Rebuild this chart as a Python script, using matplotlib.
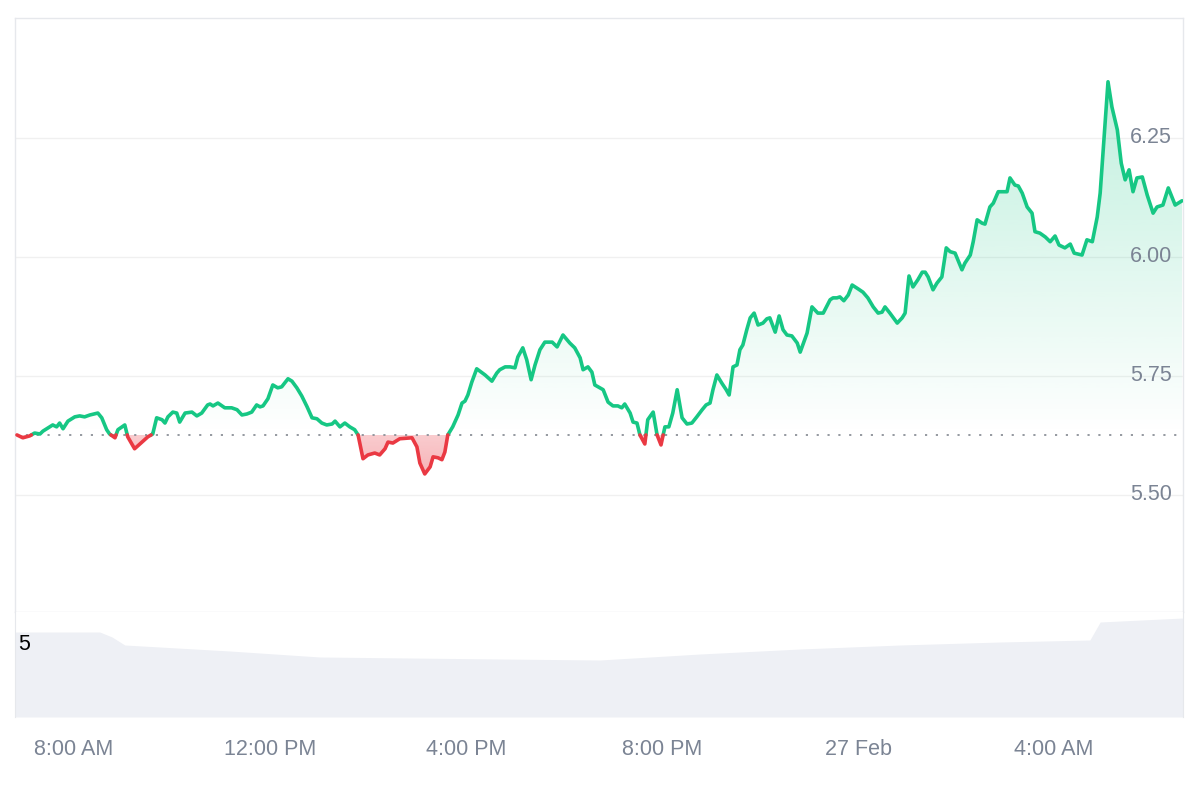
#!/usr/bin/env python3
"""Intraday price chart (24h) with baseline split colouring and volume strip."""
import numpy as np
import matplotlib

matplotlib.use("Agg")
import matplotlib.pyplot as plt
from matplotlib.path import Path

# time in hours since 26 Feb 00:00, price
TIMES = [
    6.84, 6.96, 7.10, 7.20, 7.31, 7.37, 7.51, 7.57, 7.65, 7.71, 7.78, 7.88,
    8.02, 8.12, 8.22, 8.33, 8.49, 8.57, 8.67, 8.73, 8.84, 8.90, 9.04, 9.10,
    9.24, 9.39, 9.51, 9.61, 9.69, 9.80, 9.86, 9.92, 10.02, 10.10, 10.16, 10.27,
    10.41, 10.51, 10.61, 10.73, 10.78, 10.84, 10.94, 11.08, 11.22, 11.33, 11.43,
    11.53, 11.63, 11.73, 11.80, 11.86, 11.96, 12.06, 12.16, 12.24, 12.37, 12.45,
    12.55, 12.65, 12.76, 12.86, 12.96, 13.06, 13.16, 13.27, 13.33, 13.43, 13.53,
    13.63, 13.73, 13.80, 13.90, 14.00, 14.14, 14.24, 14.35, 14.41, 14.51, 14.65,
    14.90, 15.00, 15.06, 15.16, 15.27, 15.33, 15.43, 15.51, 15.57, 15.63, 15.73,
    15.84, 15.92, 15.98, 16.04, 16.12, 16.22, 16.39, 16.53, 16.63, 16.69, 16.80,
    16.90, 17.00, 17.06, 17.16, 17.24, 17.33, 17.41, 17.51, 17.61, 17.76, 17.86,
    17.98, 18.12, 18.22, 18.33, 18.39, 18.49, 18.57, 18.63, 18.73, 18.80, 18.90,
    19.00, 19.10, 19.18, 19.24, 19.35, 19.41, 19.49, 19.55, 19.65, 19.71, 19.82,
    19.90, 19.98, 20.06, 20.14, 20.22, 20.31, 20.41, 20.51, 20.61, 20.71, 20.82,
    20.90, 20.98, 21.04, 21.12, 21.22, 21.31, 21.37, 21.45, 21.53, 21.59, 21.65,
    21.73, 21.80, 21.88, 21.96, 22.06, 22.14, 22.20, 22.31, 22.39, 22.47, 22.55,
    22.65, 22.76, 22.82, 22.96, 23.06, 23.18, 23.29, 23.43, 23.49, 23.57, 23.63,
    23.71, 23.80, 23.88, 24.00, 24.10, 24.20, 24.31, 24.41, 24.49, 24.55, 24.65,
    24.80, 24.90, 24.96, 25.04, 25.12, 25.22, 25.31, 25.37, 25.43, 25.53, 25.61,
    25.71, 25.80, 25.88, 25.98, 26.12, 26.18, 26.29, 26.35, 26.43, 26.53, 26.59,
    26.69, 26.76, 26.86, 27.04, 27.10, 27.20, 27.27, 27.35, 27.45, 27.55, 27.61,
    27.71, 27.82, 27.92, 28.02, 28.10, 28.22, 28.33, 28.41, 28.57, 28.67, 28.78,
    28.88, 28.94, 29.02, 29.10, 29.18, 29.29, 29.37, 29.45, 29.53, 29.61, 29.69,
    29.80, 29.90, 30.02, 30.10, 30.22, 30.33, 30.47, 30.61,
]
PRICES = [
    5.626, 5.620, 5.624, 5.630, 5.628, 5.634, 5.643, 5.647, 5.643, 5.651, 5.639, 5.655,
    5.664, 5.666, 5.664, 5.668, 5.672, 5.662, 5.637, 5.628, 5.620, 5.637, 5.647, 5.622,
    5.597, 5.611, 5.622, 5.628, 5.662, 5.658, 5.651, 5.664, 5.674, 5.672, 5.653, 5.672,
    5.674, 5.666, 5.672, 5.689, 5.691, 5.687, 5.693, 5.683, 5.683, 5.679, 5.668,
    5.670, 5.674, 5.689, 5.685, 5.687, 5.702, 5.731, 5.725, 5.727, 5.744, 5.739,
    5.725, 5.708, 5.685, 5.662, 5.660, 5.651, 5.647, 5.649, 5.655, 5.643, 5.651,
    5.643, 5.637, 5.626, 5.576, 5.584, 5.588, 5.584, 5.597, 5.611, 5.609, 5.618,
    5.620, 5.601, 5.567, 5.544, 5.559, 5.580, 5.578, 5.574, 5.590, 5.626, 5.643,
    5.668, 5.693, 5.697, 5.710, 5.737, 5.765, 5.752, 5.739, 5.756, 5.763, 5.769,
    5.769, 5.767, 5.790, 5.809, 5.784, 5.742, 5.773, 5.805, 5.821, 5.821, 5.811,
    5.836, 5.819, 5.809, 5.788, 5.763, 5.769, 5.758, 5.731, 5.725, 5.721, 5.695,
    5.687, 5.687, 5.683, 5.691, 5.672, 5.653, 5.651, 5.626, 5.607, 5.658, 5.674,
    5.626, 5.605, 5.643, 5.643, 5.672, 5.721, 5.662, 5.649, 5.651, 5.664, 5.679,
    5.689, 5.693, 5.721, 5.752, 5.735, 5.721, 5.710, 5.769, 5.773, 5.805, 5.815,
    5.847, 5.872, 5.882, 5.857, 5.861, 5.870, 5.872, 5.842, 5.876, 5.847, 5.836,
    5.834, 5.819, 5.800, 5.840, 5.895, 5.882, 5.882, 5.910, 5.914, 5.914, 5.916,
    5.908, 5.920, 5.941, 5.933, 5.926, 5.914, 5.895, 5.882, 5.884, 5.895, 5.882,
    5.861, 5.872, 5.882, 5.960, 5.937, 5.952, 5.968, 5.968, 5.958, 5.931, 5.945,
    5.958, 6.019, 6.011, 6.008, 5.973, 5.987, 6.004, 6.032, 6.078, 6.071, 6.069,
    6.105, 6.113, 6.137, 6.137, 6.166, 6.151, 6.149, 6.134, 6.105, 6.092, 6.053,
    6.050, 6.042, 6.032, 6.044, 6.025, 6.019, 6.027, 6.008, 6.004, 6.036, 6.032,
    6.084, 6.134, 6.252, 6.368, 6.315, 6.267, 6.197, 6.162, 6.183, 6.137, 6.166,
    6.168, 6.130, 6.092, 6.105, 6.109, 6.145, 6.109, 6.118,
]
BASELINE = 5.626

# volume strip (relative level)
VOL_T = [6.80, 8.53, 8.78, 9.04, 11.18, 13.02, 16.69, 18.73, 19.76, 20.78,
         22.82, 24.86, 26.90, 28.73, 28.94, 30.63]
VOL_V = [85, 85, 80, 72, 66, 60, 58, 57, 60, 63, 68, 72, 75, 77, 95, 99]

Y_TICKS = [5.50, 5.75, 6.00, 6.25]
X_TICKS = [8, 12, 16, 20, 24, 28]
X_LABELS = ["8:00 AM", "12:00 PM", "4:00 PM", "8:00 PM", "27 Feb", "4:00 AM"]

GREEN = "#16c784"
RED = "#ea3943"
GRID = "#f0f0f0"
BORDER = "#e6e8ec"
LABEL = "#7b8494"
XLIM = (6.80, 30.63)
YLIM = (5.254, 6.502)


def split_at_base(t, p, base):
    """Insert exact crossing points so both colours meet on the baseline."""
    ts, ps = [t[0]], [p[0]]
    for i in range(1, len(t)):
        a, b = p[i - 1] - base, p[i] - base
        if a * b < 0:
            f = a / (a - b)
            ts.append(t[i - 1] + f * (t[i] - t[i - 1]))
            ps.append(base)
        ts.append(t[i])
        ps.append(p[i])
    return np.array(ts), np.array(ps)


def gradient_fill(ax, t, p, base, where, color, y0, y1, a0, a1):
    poly = ax.fill_between(t, p, base, where=where, facecolor="none",
                           edgecolor="none")
    rgb = matplotlib.colors.to_rgb(color)
    grad = np.zeros((256, 1, 4))
    grad[:, 0, :3] = rgb
    grad[:, 0, 3] = np.linspace(a0, a1, 256)
    im = ax.imshow(grad, extent=[XLIM[0], XLIM[1], y0, y1], aspect="auto",
                   origin="lower", zorder=1, interpolation="bilinear")
    im.set_clip_path(Path.make_compound_path(*poly.get_paths()),
                     transform=ax.transData)


def main():
    plt.rcParams["font.family"] = ["Liberation Sans", "DejaVu Sans"]
    fig = plt.figure(figsize=(12, 8), dpi=100)
    ax = fig.add_axes([15 / 1200, 1 - 612 / 800, 1168 / 1200, 594 / 800])
    axv = fig.add_axes([15 / 1200, 1 - 717 / 800, 1168 / 1200, 105 / 800])

    t, p = split_at_base(TIMES, PRICES, BASELINE)
    up = np.where(p >= BASELINE, p, np.nan)
    dn = np.where(p <= BASELINE, p, np.nan)

    gradient_fill(ax, t, p, BASELINE, p >= BASELINE, GREEN,
                  BASELINE, YLIM[1], 0.0, 0.32)
    gradient_fill(ax, t, p, BASELINE, p <= BASELINE, RED,
                  5.50, BASELINE, 0.45, 0.26)

    for y in Y_TICKS:
        ax.axhline(y, color=GRID, lw=1, zorder=0)
    ax.axhline(BASELINE, color="#8c9199", lw=1.3, ls=(0, (1.2, 4.8)), zorder=2)
    ax.plot(t, up, color=GREEN, lw=2.6, solid_joinstyle="round",
            solid_capstyle="round", zorder=3)
    ax.plot(t, dn, color=RED, lw=2.6, solid_joinstyle="round",
            solid_capstyle="round", zorder=3)

    ax.set_xlim(*XLIM)
    ax.set_ylim(*YLIM)
    ax.set_xticks([])
    ax.set_yticks([])
    for y in Y_TICKS:
        ax.text(0.9906, y, f"{y:.2f}", transform=ax.get_yaxis_transform(),
                ha="right", va="center", fontsize=15.5, color=LABEL)
    for s in ax.spines.values():
        s.set_color(BORDER)
        s.set_linewidth(1)

    axv.fill_between(VOL_T, VOL_V, 0, color="#eef0f5", lw=0)
    axv.set_xlim(*XLIM)
    axv.set_ylim(0, 105)
    axv.set_yticks([])
    axv.set_xticks(X_TICKS)
    axv.set_xticklabels(X_LABELS)
    axv.tick_params(axis="x", length=0, pad=16, labelsize=15.5,
                    labelcolor=LABEL)
    for s in ("top", "bottom"):
        axv.spines[s].set_visible(False)
    for s in ("left", "right"):
        axv.spines[s].set_color(BORDER)
    axv.text(0.003, 0.686, "5", transform=axv.transAxes, ha="left",
             va="center", fontsize=15.5, color="black")

    fig.savefig("out.png", dpi=100, facecolor="white")


if __name__ == "__main__":
    main()
